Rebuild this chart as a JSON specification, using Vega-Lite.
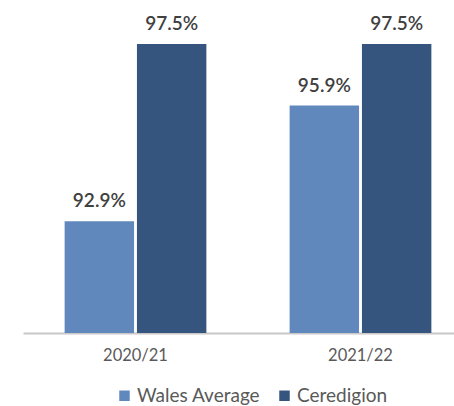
{
  "$schema": "https://vega.github.io/schema/vega-lite/v6.json",
  "autosize": {"type": "none"},
  "padding": {"left": 23, "top": 0, "right": 0, "bottom": 73},
  "width": 431,
  "height": 333,
  "background": "white",
  "config": {
    "view": {"stroke": null},
    "font": "Lato"
  },
  "data": {
    "values": [
      {"year": "2020/21", "series": "Wales Average", "value": 92.9, "label": "92.9%"},
      {"year": "2020/21", "series": "Ceredigion", "value": 97.5, "label": "97.5%"},
      {"year": "2021/22", "series": "Wales Average", "value": 95.9, "label": "95.9%"},
      {"year": "2021/22", "series": "Ceredigion", "value": 97.5, "label": "97.5%"}
    ]
  },
  "encoding": {
    "x": {
      "field": "year",
      "type": "nominal",
      "title": null,
      "scale": {"paddingInner": 0.37, "paddingOuter": 0.185, "range": [0, 450]},
      "axis": {
        "labelAngle": 0,
        "labelFont": "Lato",
        "labelFontSize": 16.5,
        "labelColor": "#595959",
        "labelPadding": 14,
        "ticks": false,
        "domainColor": "#c8c8c8",
        "domainWidth": 2
      }
    },
    "xOffset": {
      "field": "series",
      "type": "nominal",
      "sort": ["Wales Average", "Ceredigion"],
      "scale": {"paddingInner": 0.04}
    },
    "y": {
      "field": "value",
      "type": "quantitative",
      "scale": {"domain": [90, 98.64], "zero": false, "nice": false},
      "axis": null
    }
  },
  "layer": [
    {
      "mark": {"type": "bar"},
      "encoding": {
        "y2": {"datum": 90},
        "color": {
          "field": "series",
          "type": "nominal",
          "sort": ["Wales Average", "Ceredigion"],
          "scale": {"domain": ["Wales Average", "Ceredigion"], "range": ["#6088bd", "#35557f"]},
          "legend": {
            "title": null,
            "orient": "none",
            "legendX": 92,
            "legendY": 386,
            "direction": "horizontal",
            "symbolType": "square",
            "symbolSize": 110,
            "symbolStrokeWidth": 0,
            "labelFont": "Lato",
            "labelFontSize": 19,
            "labelColor": "#595959",
            "labelOffset": 3,
            "columnPadding": 14
          }
        }
      }
    },
    {
      "mark": {"type": "text", "baseline": "alphabetic", "dy": -14, "font": "Lato", "fontSize": 19, "fontWeight": 600, "color": "#404040"},
      "encoding": {
        "text": {"field": "label"}
      }
    }
  ]
}
